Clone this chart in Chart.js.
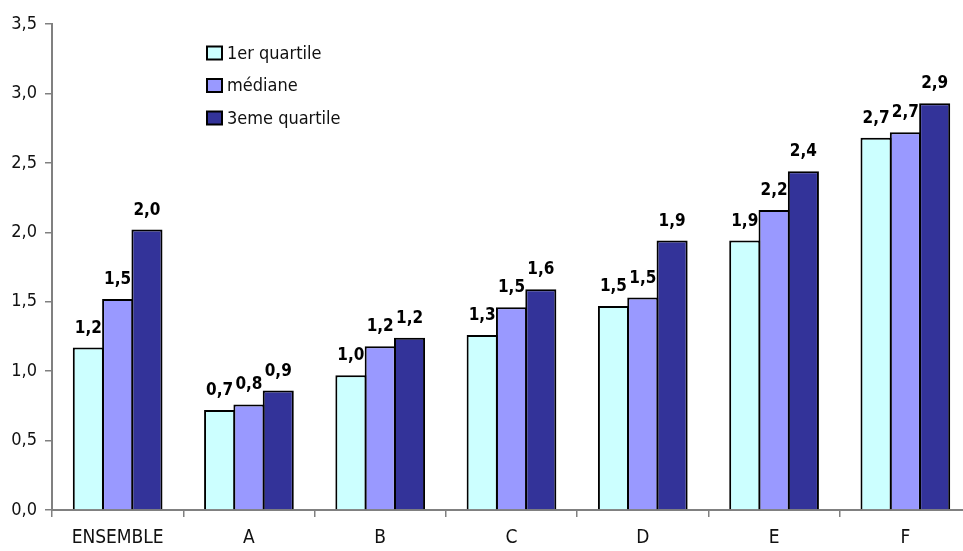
<!DOCTYPE html>
<html>
<head>
<meta charset="utf-8">
<script src="https://cdn.jsdelivr.net/npm/chart.js@4/dist/chart.umd.min.js"></script>
<style>
  html, body { margin: 0; padding: 0; background: #fff; overflow: hidden; }
  #wrap { width: 972px; height: 551px; }
</style>
</head>
<body>
<div id="wrap"><canvas id="c"></canvas></div>
<script>
// Catégories et séries (ratios par groupe)
const categories = ['ENSEMBLE', 'A', 'B', 'C', 'D', 'E', 'F'];
const seriesNames = ['1er quartile', 'médiane', '3eme quartile'];
const q1Values = [1.17, 0.72, 0.97, 1.26, 1.47, 1.94, 2.68];
const medianValues = [1.52, 0.76, 1.18, 1.46, 1.53, 2.16, 2.72];
const q3Values = [2.02, 0.86, 1.24, 1.59, 1.94, 2.44, 2.93];
const yTicks = [0, 0.5, 1, 1.5, 2, 2.5, 3, 3.5];

const FONT = '"Liberation Sans Narrow", "DejaVu Sans Condensed", "Arial Narrow", sans-serif';
const fillColors = ['#CCFFFF', '#9999FF', '#333399'];
const fmt = v => v.toFixed(1).replace('.', ',');

// Étiquettes de valeur au-dessus de chaque barre
const valueLabels = {
  id: 'valueLabels',
  afterDatasetsDraw(chart) {
    const ctx = chart.ctx;
    ctx.save();
    ctx.font = 'bold 17px ' + FONT;
    ctx.fillStyle = '#000';
    ctx.textAlign = 'center';
    ctx.textBaseline = 'alphabetic';
    chart.data.datasets.forEach((ds, i) => {
      chart.getDatasetMeta(i).data.forEach((bar, j) => {
        ctx.fillText(fmt(ds.data[j]), bar.x, bar.y - 15);
      });
    });
    ctx.restore();
  }
};

// Légende verticale placée dans la zone du graphique
const boxLegend = {
  id: 'boxLegend',
  afterDraw(chart) {
    const ctx = chart.ctx;
    ctx.save();
    ctx.font = '18px ' + FONT;
    ctx.textBaseline = 'middle';
    ctx.textAlign = 'left';
    const x0 = 207, y0 = 53, step = 32.5;
    chart.data.datasets.forEach((ds, i) => {
      const y = y0 + i * step;
      ctx.fillStyle = ds.backgroundColor;
      ctx.fillRect(x0, y - 6.5, 15, 13);
      ctx.strokeStyle = '#000';
      ctx.lineWidth = 2;
      ctx.strokeRect(x0, y - 6.5, 15, 13);
      ctx.fillStyle = '#111';
      ctx.fillText(ds.label, x0 + 20, y + 1);
    });
    ctx.restore();
  }
};

const valueSets = [q1Values, medianValues, q3Values];

new Chart(document.getElementById('c'), {
  type: 'bar',
  data: {
    labels: categories,
    datasets: seriesNames.map((name, i) => ({
      label: name,
      data: valueSets[i],
      backgroundColor: fillColors[i],
      borderColor: '#000',
      borderWidth: 2,
      borderSkipped: 'bottom',
      categoryPercentage: 0.67,
      barPercentage: 1.06
    }))
  },
  options: {
    responsive: true,
    maintainAspectRatio: false,
    animation: false,
    layout: { padding: { top: 24, right: 1, left: 0, bottom: 0 } },
    plugins: {
      legend: { display: false },
      tooltip: { enabled: false }
    },
    scales: {
      x: {
        grid: {
          display: true,
          drawOnChartArea: false,
          offset: true,
          tickLength: 7,
          color: '#808080',
          lineWidth: 1.5
        },
        border: { display: true, color: '#808080', width: 2 },
        ticks: {
          color: '#111',
          padding: 10,
          font: { family: FONT, size: 19 }
        },
        afterFit(s) { s.height = 41; }
      },
      y: {
        min: 0,
        max: 3.5,
        afterBuildTicks(s) { s.ticks = yTicks.map(v => ({ value: v })); },
        grid: {
          display: true,
          drawOnChartArea: false,
          tickLength: 7,
          color: '#808080',
          lineWidth: 1.5
        },
        border: { display: true, color: '#808080', width: 2 },
        ticks: {
          color: '#111',
          padding: 8,
          font: { family: FONT, size: 18 },
          callback: v => fmt(v)
        },
        afterFit(s) { s.width = 52; }
      }
    }
  },
  plugins: [valueLabels, boxLegend]
});
</script>
</body>
</html>
